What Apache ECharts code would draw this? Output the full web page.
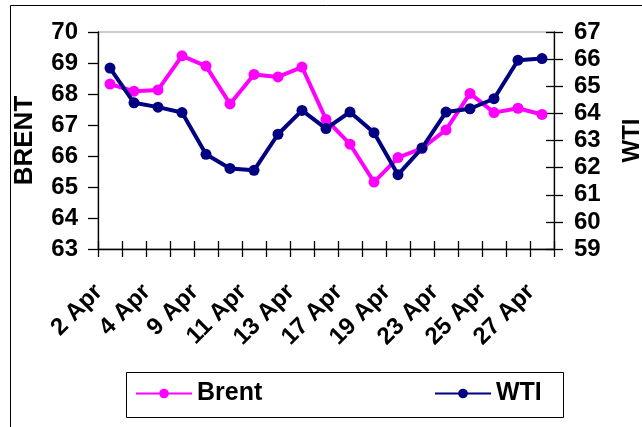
<!DOCTYPE html>
<html>
<head>
<meta charset="utf-8">
<script src="https://cdn.jsdelivr.net/npm/echarts@6/dist/echarts.min.js"></script>
<style>
  html, body { margin: 0; padding: 0; background: #fff; }
  #chart { width: 642px; height: 427px; }
</style>
</head>
<body>
<div id="chart"></div>
<script>
// Trading days, April
const days = ['2 Apr', '3 Apr', '4 Apr', '5 Apr', '9 Apr', '10 Apr', '11 Apr', '12 Apr', '13 Apr',
  '16 Apr', '17 Apr', '18 Apr', '19 Apr', '20 Apr', '23 Apr', '24 Apr', '25 Apr', '26 Apr', '27 Apr'];

// Crude oil prices, $/bbl
const brent = [68.32, 68.09, 68.13, 69.23, 68.90, 67.68, 68.63, 68.55, 68.87, 67.18,
  66.38, 65.16, 65.95, 66.25, 66.84, 68.02, 67.40, 67.54, 67.34];
const wti = [65.67, 64.39, 64.23, 64.03, 62.49, 61.97, 61.90, 63.23, 64.11, 63.44,
  64.05, 63.29, 61.74, 62.72, 64.05, 64.17, 64.54, 65.96, 66.02];

// Axis ranges
const brentAxis = { min: 63, max: 70, step: 1 };
const wtiAxis = { min: 59, max: 67, step: 1 };

const FONT = '"Liberation Sans", Arial, sans-serif';
const BRENT_COLOR = '#FF00FF';
const WTI_COLOR = '#000080';

const chart = echarts.init(document.getElementById('chart'), null, { renderer: 'canvas' });

const boldText = (size) => ({ fontFamily: FONT, fontWeight: 'bold', fontSize: size, color: '#000' });
const axisLineStyle = { show: true, lineStyle: { color: '#000', width: 1.3 } };
const tickStyle = { color: '#000', width: 1.3 };

chart.setOption({
  backgroundColor: '#fff',
  animation: false,
  graphic: [
    { type: 'rect', shape: { x: 10.5, y: 5.5, width: 700, height: 500 },
      style: { fill: 'none', stroke: '#000', lineWidth: 1 }, silent: true, z: -1 },
    { type: 'rect', shape: { x: 126.5, y: 372.5, width: 437, height: 45 },
      style: { fill: '#fff', stroke: '#000', lineWidth: 1 }, silent: true, z: 0 }
  ],
  grid: {
    left: 98, right: 88, top: 32, bottom: 178,
    outerBoundsMode: 'none', containLabel: false,
    show: true, borderColor: '#999', borderWidth: 1, backgroundColor: '#fff'
  },
  legend: [
    { data: ['Brent'], left: 135, top: 381, padding: 0, itemWidth: 56, itemHeight: 12,
      textStyle: boldText(25), z: 5 },
    { data: ['WTI'], left: 434, top: 381, padding: 0, itemWidth: 56, itemHeight: 12,
      textStyle: boldText(25), z: 5 }
  ],
  xAxis: [
    {
      type: 'category', data: days, boundaryGap: true,
      axisLine: axisLineStyle,
      axisTick: { show: true, interval: 0, length: 8, lineStyle: tickStyle },
      axisLabel: { interval: 1, rotate: 45, margin: 28, padding: [0, 16, 0, 0], ...boldText(24) },
      splitLine: { show: false }
    },
    {
      // inner half of the crossing tick marks
      type: 'category', data: days, boundaryGap: true, position: 'bottom',
      axisLine: { show: false },
      axisTick: { show: true, inside: true, interval: 0, length: 8, lineStyle: tickStyle },
      axisLabel: { show: false }, splitLine: { show: false }
    }
  ],
  yAxis: [
    {
      type: 'value', position: 'left', min: brentAxis.min, max: brentAxis.max, interval: brentAxis.step,
      name: 'BRENT', nameLocation: 'middle', nameRotate: 90, nameGap: 60, nameTextStyle: boldText(26),
      axisLine: axisLineStyle,
      axisTick: { show: true, length: 10, lineStyle: tickStyle },
      axisLabel: { margin: 20, ...boldText(24) },
      splitLine: { show: false }
    },
    {
      type: 'value', position: 'right', min: wtiAxis.min, max: wtiAxis.max, interval: wtiAxis.step,
      name: 'WTI', nameLocation: 'middle', nameRotate: 90, nameGap: 66, nameTextStyle: boldText(24),
      axisLine: axisLineStyle,
      axisTick: { show: true, length: 9, lineStyle: tickStyle },
      axisLabel: { margin: 20, ...boldText(24) },
      splitLine: { show: false }
    },
    {
      // inner half of the crossing tick marks on the WTI axis
      type: 'value', position: 'right', min: wtiAxis.min, max: wtiAxis.max, interval: wtiAxis.step,
      axisLine: { show: false },
      axisTick: { show: true, inside: true, length: 8, lineStyle: tickStyle },
      axisLabel: { show: false }, splitLine: { show: false }
    }
  ],
  series: [
    {
      name: 'Brent', type: 'line', yAxisIndex: 0, data: brent,
      symbol: 'circle', symbolSize: 11,
      lineStyle: { color: BRENT_COLOR, width: 4 },
      itemStyle: { color: BRENT_COLOR },
      z: 3
    },
    {
      name: 'WTI', type: 'line', yAxisIndex: 1, data: wti,
      symbol: 'circle', symbolSize: 11,
      lineStyle: { color: WTI_COLOR, width: 4 },
      itemStyle: { color: WTI_COLOR },
      z: 4
    }
  ]
});
</script>
</body>
</html>
